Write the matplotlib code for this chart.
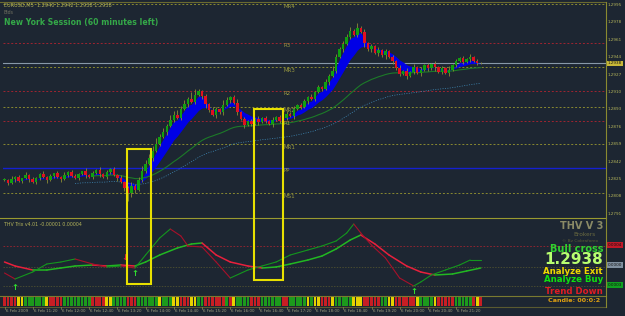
import numpy as np
import pandas as pd
import matplotlib
matplotlib.use("Agg")
import matplotlib.pyplot as plt
import matplotlib.transforms as mtransforms
from matplotlib.patches import Rectangle

W, H = 625, 316
BG = "#1d2632"
OLIVE = "#b4b45a"

# --- EURUSD M5 closes ---
closes = [
    1.2824, 1.2821, 1.2825, 1.2827, 1.2823, 1.2826, 1.2829, 1.2825, 1.2822, 1.2826,
    1.2830, 1.2827, 1.2824, 1.2828, 1.2831, 1.2827, 1.2825, 1.2829, 1.2832, 1.2828,
    1.2826, 1.2830, 1.2833, 1.2829, 1.2827, 1.2831, 1.2834, 1.2830, 1.2827, 1.2832,
    1.2835, 1.2829, 1.2826, 1.2822, 1.2816, 1.2811, 1.2818, 1.2814, 1.2824, 1.2833,
    1.2840, 1.2846, 1.2852, 1.2859, 1.2866, 1.2871, 1.2877, 1.2883, 1.2888, 1.2885,
    1.2893, 1.2898, 1.2903, 1.2900, 1.2907, 1.2911, 1.2906, 1.2898, 1.2892, 1.2888,
    1.2893, 1.2890, 1.2897, 1.2902, 1.2905, 1.2899, 1.2890, 1.2884, 1.2878, 1.2882,
    1.2879, 1.2884, 1.2881, 1.2885, 1.2882, 1.2879, 1.2883, 1.2886, 1.2882, 1.2885,
    1.2889, 1.2887, 1.2893, 1.2897, 1.2895, 1.2901, 1.2905, 1.2903, 1.2910, 1.2915,
    1.2913, 1.2920, 1.2926, 1.2931, 1.2944, 1.2952, 1.2957, 1.2964, 1.2970, 1.2966,
    1.2973, 1.2969, 1.2958, 1.2952, 1.2955, 1.2948, 1.2951, 1.2946, 1.2950, 1.2944,
    1.2940, 1.2933, 1.2928, 1.2931, 1.2926, 1.2930, 1.2934, 1.2929, 1.2932, 1.2936,
    1.2933, 1.2937, 1.2934, 1.2930, 1.2933, 1.2929, 1.2932, 1.2936, 1.2940, 1.2943,
    1.2939, 1.2942, 1.2944, 1.2940, 1.2938, 1.2938,
]
# wick lengths in pips above / below the body
upper_pips = ("2131203121" "1312021312" "2103121312" "1213124235" "4356342534"
              "3427621213" "2153124121" "2131213121" "2131221312" "1324323342"
              "4231213121" "2131213121" "2131213121" "213121")
lower_pips = ("1213121312" "2131213121" "1213121312" "2131374312" "2131213121"
              "2131213421" "3121312131" "2131213121" "2131213121" "2131213121"
              "2142313241" "3121312131" "2131213121" "213121")

price_labels = ["1.2995", "1.2978", "1.2961", "1.2944", "1.2927", "1.2910", "1.2893",
                "1.2876", "1.2859", "1.2842", "1.2825", "1.2808", "1.2791"]
label_prices = [float(s) for s in price_labels]
last_price = 1.2938

level_prices = [1.2996, 1.2958, 1.2934, 1.2911, 1.2895, 1.2882, 1.2859, 1.2836, 1.2811]
level_names = ["MR4", "R3", "MR3", "R2", "MR2", "R1", "MR1", "PP", "MS1"]
level_kinds = ["mid", "res", "mid", "res", "mid", "res", "mid", "pivot", "mid"]

# --- Trix-style indicator (units of 1e-5) ---
fast_bars = [0, 3, 8, 12, 16, 20, 25, 29, 33, 37, 40, 44, 47, 50, 52, 56, 60, 64, 69, 73,
             77, 81, 86, 90, 94, 97, 99, 101, 104, 108, 112, 116, 118, 121, 125, 129, 132, 135]
fast_vals = [-27, -33, -26, -18, -16, -13, -18, -21, -20, -22, -9, 8, 17, 10, 0, -1, -16, -32,
             -24, -20, -16, -9, -4, 0, 5, 13, 22, 13, 1, -12, -32, -40, -36, -29, -24, -19, -14, -14]
slow_bars = [0, 3, 8, 12, 16, 20, 25, 29, 33, 37, 40, 44, 49, 53, 56, 60, 64, 69, 73, 77,
             81, 86, 90, 94, 98, 101, 105, 109, 114, 118, 122, 127, 131, 135]
slow_vals = [-16, -20, -24, -24, -22, -20, -19, -20, -19, -20, -16, -9, -2, 2, 3, -9, -16, -20,
             -22, -21, -18, -14, -10, -3, 6, 11, 2, -9, -20, -26, -29, -28, -25, -22]
buy_arrows = [(3, -41), (37, -28), (116, -46)]
sell_arrows = [(34, -11)]

# --- signal strip: (colour, number of bars) ---
strip_runs = [("r", 4), ("y", 2), ("g", 6), ("y", 1), ("r", 4), ("g", 8), ("r", 4), ("y", 2),
              ("g", 4), ("r", 3), ("g", 6), ("y", 1), ("g", 3), ("y", 2), ("r", 3), ("y", 2),
              ("g", 2), ("r", 6), ("g", 1), ("r", 1), ("y", 1), ("g", 4), ("r", 3), ("g", 6),
              ("r", 2), ("g", 5), ("y", 1), ("g", 1), ("y", 2), ("r", 3), ("y", 1), ("g", 5),
              ("y", 3), ("r", 5), ("g", 2), ("y", 2), ("r", 6), ("y", 1), ("g", 4), ("y", 1),
              ("r", 5), ("g", 5), ("r", 1), ("y", 1), ("r", 1)]
strip_colors = {"r": "#c81e24", "g": "#1c9a1c", "y": "#e6d200"}

time_labels = ["6 Feb 2009", "6 Feb 11:20", "6 Feb 12:00", "6 Feb 12:40", "6 Feb 13:20",
               "6 Feb 14:00", "6 Feb 14:40", "6 Feb 15:20", "6 Feb 16:00", "6 Feb 16:40",
               "6 Feb 17:20", "6 Feb 18:00", "6 Feb 18:40", "6 Feb 19:20", "6 Feb 20:00",
               "6 Feb 20:40", "6 Feb 21:20"]


def fx(x):
    return x / W


def fy(y):
    return 1 - y / H


fig = plt.figure(figsize=(W / 100, H / 100), dpi=100, facecolor=BG)
XL = (-0.42, 170.5)

ax = fig.add_axes([fx(3), fy(218), fx(603), 215 / H])
ax2 = fig.add_axes([fx(3), fy(294), fx(603), 75 / H])
ax3 = fig.add_axes([fx(3), fy(306), fx(603), 9 / H])
for a in (ax, ax2, ax3):
    a.set_facecolor(BG)
    a.set_xlim(*XL)
    a.set_xticks([])
    a.set_yticks([])
    for s in a.spines.values():
        s.set_visible(False)

# main panel
ax.set_ylim(1.27869, 1.29970)
n = len(closes)
x = np.arange(n)
c = np.array(closes)
o = np.concatenate([[c[0]], c[:-1]])
hi = np.maximum(o, c) + np.array([int(d) for d in upper_pips]) * 1e-4
lo = np.minimum(o, c) - np.array([int(d) for d in lower_pips]) * 1e-4

for p, kind in zip(level_prices, level_kinds):
    if kind == "res":
        ax.axhline(p, color="#a02430", lw=0.7, ls=(0, (2, 2)))
    elif kind == "mid":
        ax.axhline(p, color="#8a8a30", lw=0.7, ls=(0, (2, 2)))
    else:
        ax.axhline(p, color="#1420d0", lw=1.0)
for p, name in zip(level_prices, level_names):
    ax.text(79, p - 0.00004, name, color="#9a9a40", fontsize=4, va="top", ha="left")
ax.axhline(last_price, color="#8898a8", lw=0.8)

cs = pd.Series(c)
fast_e = cs.ewm(span=3).mean().values
slow_e = cs.ewm(span=10).mean().values
ax.fill_between(x, fast_e - 0.0001, slow_e - 0.0001, color="#0000e6", lw=0, zorder=2)
ax.plot(x[25:], cs.ewm(span=40).mean().values[25:], color="#1c7a28", lw=0.8, zorder=2)
ax.plot(x[20:], cs.ewm(span=70).mean().values[20:] - 0.0006, color="#4aa8e0",
        lw=0.5, ls=(0, (1.5, 2)), alpha=0.8, zorder=2)

up = c >= o
ax.vlines(x, lo, hi, color="#8c8c34", lw=0.6, zorder=3)
body = np.maximum(np.abs(c - o), 0.00006)
ax.bar(x[up], body[up], bottom=np.minimum(o, c)[up], width=0.7, color="#10a010", zorder=4)
ax.bar(x[~up], body[~up], bottom=np.minimum(o, c)[~up], width=0.7, color="#e01020", zorder=4)

# indicator panel
ax2.set_ylim(-48, 27)
ax2.axhline(0, color="#a02430", lw=0.6, ls=(0, (2, 2)))
ax2.axhline(-21, color="#5a5a30", lw=0.5, ls=(0, (2, 2)))
ax2.axhline(-40, color="#5a5a30", lw=0.5, ls=(0, (2, 2)))


def slope_line(a, bars, vals, up_col, dn_col, lw):
    for i in range(len(bars) - 1):
        col = up_col if vals[i + 1] >= vals[i] else dn_col
        a.plot(bars[i:i + 2], vals[i:i + 2], color=col, lw=lw, solid_capstyle="round")


slope_line(ax2, slow_bars, slow_vals, "#22b822", "#e8203c", 1.1)
slope_line(ax2, fast_bars, fast_vals, "#14961e", "#a8102a", 0.8)
for bx, bv in buy_arrows:
    ax2.text(bx, bv, "↑", color="#30e030", fontsize=6, fontweight="bold", ha="center", va="center")
for bx, bv in sell_arrows:
    ax2.text(bx, bv, "↓", color="#e02030", fontsize=6, fontweight="bold", ha="center", va="center")

# signal strip
ax3.set_ylim(0, 1)
pos = 0
for col, cnt in strip_runs:
    ax3.bar(np.arange(pos, pos + cnt), 1, width=0.78, bottom=0, color=strip_colors[col], lw=0)
    pos += cnt

# highlight boxes spanning both panels
tr = mtransforms.blended_transform_factory(ax.transData, fig.transFigure)
for x0, x1, y0, y1 in [(34.7, 41.5, 149, 284), (70.7, 78.9, 109, 280)]:
    fig.patches.append(Rectangle((x0, fy(y1)), x1 - x0, (y1 - y0) / H, transform=tr,
                                 fill=False, ec="#e8e000", lw=1.5, zorder=10))

# frame lines
for yy, col in [(2, "#6a6a30"), (218, "#9a9a30"), (296, "#7a7a30"), (307, "#5a5a30")]:
    fig.add_artist(plt.Line2D([0, fx(606)], [fy(yy), fy(yy)], color=col, lw=0.8))
fig.add_artist(plt.Line2D([fx(606), fx(606)], [fy(2), fy(307)], color="#8a8a30", lw=0.8))

# price scale
ytr = ax.get_yaxis_transform()
for lab, p in zip(price_labels, label_prices):
    ax.text(1.003, p, lab, transform=ytr, color=OLIVE, fontsize=3.0, va="center", ha="left",
            clip_on=False)
ax.text(1.003, last_price, "1.2938", transform=ytr, color="#1a1a10", fontsize=3.0, va="center",
        ha="left", clip_on=False, bbox=dict(boxstyle="square,pad=0.15", fc="#c8b838", ec="none"))

# indicator scale boxes
ytr2 = ax2.get_yaxis_transform()
for v, lab, fc in [(1, "0.0004", "#c01828"), (-19, "0.0000", "#8090a0"), (-39, "0.0003", "#10a020")]:
    ax2.text(1.003, v, lab, transform=ytr2, color="#101010", fontsize=3.0, va="center", ha="left",
             clip_on=False, bbox=dict(boxstyle="square,pad=0.15", fc=fc, ec="none"))

# time labels
for k, lab in enumerate(time_labels):
    xp = 4.5 + 3.53 * 8 * k
    fig.text(fx(xp + 1), fy(311), lab, color="#a0a080", fontsize=2.9, ha="left", va="center")
    fig.add_artist(plt.Line2D([fx(xp), fx(xp)], [fy(307), fy(309)], color="#8a8a50", lw=0.5))

# captions
fig.text(fx(4), fy(5), "EURUSD,M5  1.2940 1.2942 1.2938 1.2938", color=OLIVE, fontsize=3.6,
         ha="left", va="center")
fig.text(fx(4), fy(12), "Bids", color="#707060", fontsize=3.4, ha="left", va="center")
fig.text(fx(4), fy(23), "New York Session (60 minutes left)", color="#34a848", fontsize=5.6,
         fontweight="bold", ha="left", va="center")
fig.text(fx(4), fy(224), "THV Trix v4.01 -0.00001 0.00004", color=OLIVE, fontsize=3.4,
         ha="left", va="center")

R = fx(603)
fig.text(R, fy(226), "THV V 3", color="#8a8a66", fontsize=7, fontweight="bold", ha="right", va="center")
fig.text(R - 0.012, fy(234), "Brokers", color="#6a6a40", fontsize=4.2, ha="right", va="center")
fig.text(R - 0.008, fy(241), "© Bz Cobraforex", color="#5a5a38", fontsize=3.2, ha="right", va="center")
fig.text(R, fy(249), "Bull cross", color="#30d030", fontsize=7, fontweight="bold", ha="right", va="center")
fig.text(R, fy(260), "1.2938", color="#b8ff70", fontsize=11, fontweight="bold", ha="right", va="center")
fig.text(R, fy(272), "Analyze Exit", color="#f0d800", fontsize=6.2, fontweight="bold", ha="right", va="center")
fig.text(R, fy(280), "Analyze Buy", color="#10e010", fontsize=6.2, fontweight="bold", ha="right", va="center")
fig.text(R, fy(291), "Trend Down", color="#e01c24", fontsize=6.2, fontweight="bold", ha="right", va="center")
fig.text(R - 0.004, fy(301), "Candle: 00:0:2", color="#e0a010", fontsize=4.6, fontweight="bold",
         ha="right", va="center")

fig.savefig("out.png", dpi=100, facecolor=BG)
